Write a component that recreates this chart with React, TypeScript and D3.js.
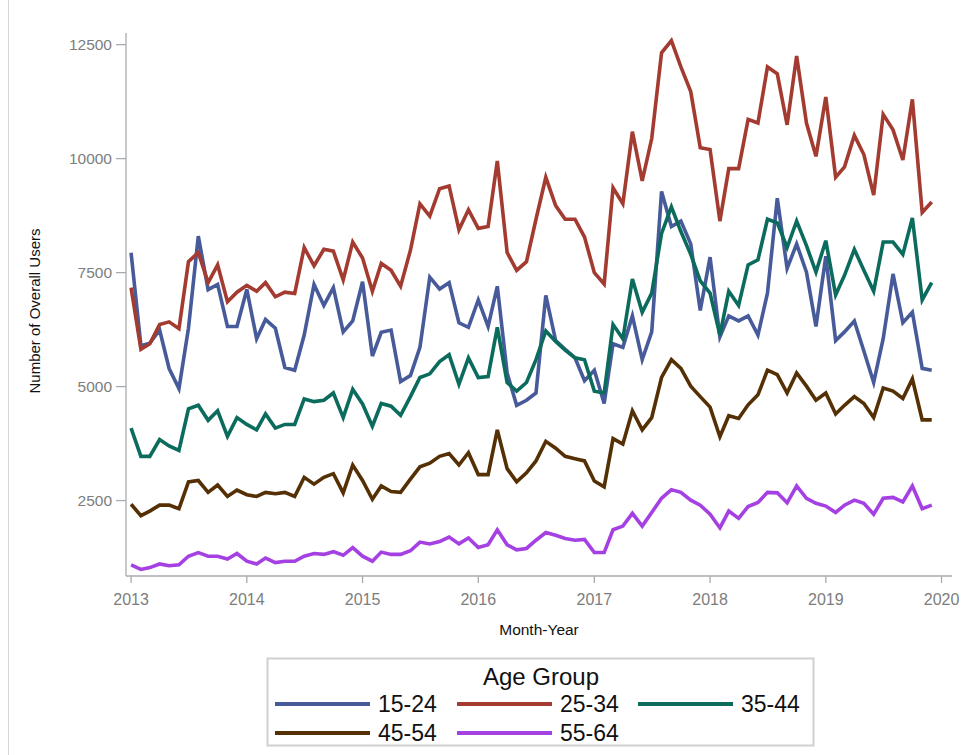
import React from "react";
import * as d3 from "d3";

const ageGroups = ["15-24", "25-34", "35-44", "45-54", "55-64"];
const colors = ["#475a99", "#a33b31", "#0b6b5d", "#553005", "#a541e3"];

const s1524 = [
  7935, 5896, 5950, 6242, 5396, 4958, 6281, 8300, 7127, 7242, 6319, 6319,
  7130, 6050, 6470, 6280, 5420, 5360, 6130, 7240, 6780, 7170, 6200, 6440,
  7300, 5670, 6190, 6240, 5110, 5240, 5860, 7400, 7140, 7280, 6400, 6300,
  6900, 6320, 7200, 5300, 4590, 4700, 4860, 7000, 6010, 5820, 5630, 5130,
  5360, 4630, 5940, 5860, 6550, 5590, 6200, 9280, 8510, 8630, 8130, 6670,
  7840, 6090, 6550, 6440, 6550, 6130, 7050, 9130, 7590, 8130, 7510, 6320,
  7860, 6010, 6200, 6440, 5780, 5090, 6050, 7470, 6400, 6630, 5400, 5360,
];
const s2534 = [
  7170, 5820, 5940, 6360, 6420, 6270, 7740, 7940, 7280, 7670, 6860, 7070,
  7220, 7090, 7280, 6970, 7070, 7040, 8050, 7650, 8010, 7970, 7340, 8170,
  7820, 7090, 7700, 7550, 7200, 7990, 9010, 8740, 9340, 9400, 8440, 8880,
  8470, 8510, 9950, 7940, 7550, 7740, 8670, 9590, 8970, 8670, 8670, 8280,
  7500, 7250, 9360, 9010, 10590, 9510, 10440, 12320, 12590, 12010, 11470, 10240,
  10200, 8630, 9780, 9780, 10860, 10780, 12010, 11860, 10740, 12250, 10780, 10050,
  11350, 9590, 9820, 10510, 10090, 9200, 10970, 10630, 9970, 11300, 8820, 9050,
];
const s3544 = [
  4090, 3470, 3470, 3840, 3700, 3600, 4510, 4590, 4260, 4470, 3910, 4320,
  4170, 4050, 4400, 4090, 4170, 4170, 4730, 4670, 4700, 4860, 4320, 4940,
  4620, 4130, 4630, 4570, 4370, 4780, 5200, 5280, 5550, 5700, 5050, 5630,
  5200, 5220, 6300, 5090, 4900, 5090, 5590, 6220, 5990, 5800, 5630, 5590,
  4900, 4860, 6360, 6050, 7360, 6630, 7050, 8360, 8940, 8400, 7900, 7320,
  7050, 6130, 7090, 6780, 7670, 7780, 8670, 8590, 8050, 8630, 8090, 7510,
  8200, 7010, 7440, 8010, 7550, 7090, 8170, 8170, 7900, 8700, 6900, 7280,
];
const s4554 = [
  2420, 2170, 2270, 2400, 2400, 2320, 2910, 2940, 2680, 2840, 2590, 2730,
  2630, 2590, 2680, 2650, 2680, 2590, 3010, 2860, 3010, 3090, 2670, 3280,
  2940, 2530, 2820, 2700, 2680, 2970, 3240, 3320, 3470, 3530, 3280, 3550,
  3070, 3070, 4050, 3200, 2910, 3110, 3370, 3800, 3650, 3470, 3420, 3370,
  2930, 2800, 3860, 3740, 4470, 4050, 4320, 5200, 5590, 5400, 5010, 4780,
  4550, 3900, 4360, 4300, 4600, 4820, 5360, 5260, 4860, 5300, 5010, 4700,
  4860, 4400, 4590, 4780, 4630, 4320, 4970, 4900, 4740, 5170, 4270, 4270,
];
const s5564 = [
  1090, 990, 1030, 1110, 1070, 1090, 1280, 1360, 1280, 1280, 1220, 1340,
  1170, 1110, 1240, 1140, 1170, 1170, 1280, 1340, 1320, 1380, 1300, 1470,
  1280, 1170, 1370, 1320, 1320, 1400, 1590, 1550, 1600, 1700, 1550, 1680,
  1470, 1530, 1860, 1530, 1420, 1450, 1630, 1800, 1740, 1670, 1630, 1650,
  1360, 1360, 1860, 1940, 2220, 1940, 2240, 2550, 2740, 2680, 2510, 2400,
  2200, 1900, 2270, 2110, 2370, 2460, 2680, 2670, 2450, 2820, 2550, 2440,
  2380, 2240, 2400, 2510, 2440, 2200, 2550, 2570, 2470, 2820, 2320, 2400,
];
const seriesValues = [s1524, s2534, s3544, s4554, s5564];

const months = d3.timeMonths(new Date(2013, 0, 1), new Date(2020, 0, 1));
const yTicks = [2500, 5000, 7500, 10000, 12500];
const xTickYears = [2013, 2014, 2015, 2016, 2017, 2018, 2019, 2020];

export default function App() {
  const x = d3
    .scaleTime()
    .domain([new Date(2012, 11, 16), new Date(2020, 1, 3)])
    .range([126, 952]);
  const y = d3.scaleLinear().domain([846, 12755]).range([576, 33]);
  const line = d3
    .line<number>()
    .x((_, i) => x(months[i]))
    .y((d) => y(d));

  const font = "'Liberation Sans', Arial, sans-serif";
  const axisColor = "#a8acb0";
  const tickText = "#7d7d7d";

  const legendItems = ageGroups.map((g, i) => ({
    g,
    color: colors[i],
    col: i % 3,
    row: Math.floor(i / 3),
  }));
  const colX = [275, 457, 638];
  const rowY = [704, 733];

  return (
    <svg
      width={964}
      height={755}
      style={{ position: "absolute", left: 0, top: 0, background: "#fff" }}
      fontFamily={font}
    >
      <rect x={0} y={0} width={964} height={755} fill="#fff" />
      <line x1={8.5} x2={8.5} y1={0} y2={755} stroke="#d6d6d6" strokeWidth={1} />

      {/* axes */}
      <line x1={126} x2={126} y1={33} y2={576} stroke={axisColor} strokeWidth={1.3} />
      <line x1={126} x2={952} y1={576} y2={576} stroke={axisColor} strokeWidth={1.3} />
      {yTicks.map((t) => (
        <g key={t}>
          <line x1={116} x2={126} y1={y(t)} y2={y(t)} stroke={axisColor} strokeWidth={1.3} />
          <text x={112} y={y(t)} dy="0.35em" textAnchor="end" fontSize={15.5} fill={tickText}>
            {t}
          </text>
        </g>
      ))}
      {xTickYears.map((yr) => {
        const px = x(new Date(yr, 0, 1));
        return (
          <g key={yr}>
            <line x1={px} x2={px} y1={576} y2={583} stroke={axisColor} strokeWidth={1.3} />
            <text x={px} y={605} textAnchor="middle" fontSize={16} fill={tickText}>
              {yr}
            </text>
          </g>
        );
      })}
      <text
        transform="translate(40,311) rotate(-90)"
        textAnchor="middle"
        fontSize={15}
        fill="#111"
      >
        Number of Overall Users
      </text>
      <text x={539} y={635} textAnchor="middle" fontSize={15.5} fill="#111">
        Month-Year
      </text>

      {/* series */}
      {seriesValues.map((vals, i) => (
        <path
          key={ageGroups[i]}
          d={line(vals) || ""}
          fill="none"
          stroke={colors[i]}
          strokeWidth={3.6}
          strokeLinejoin="miter"
          strokeMiterlimit={4}
        />
      ))}

      {/* legend */}
      <rect x={267.5} y={658.5} width={546} height={87} fill="#fff" stroke="#d0d0d0" strokeWidth={2} />
      <text x={541} y={685} textAnchor="middle" fontSize={24} fill="#111">
        Age Group
      </text>
      {legendItems.map((it) => (
        <g key={it.g}>
          <line
            x1={colX[it.col]}
            x2={colX[it.col] + 95}
            y1={rowY[it.row]}
            y2={rowY[it.row]}
            stroke={it.color}
            strokeWidth={4}
          />
          <text x={colX[it.col] + 103} y={rowY[it.row] + 8} fontSize={23} fill="#111">
            {it.g}
          </text>
        </g>
      ))}
    </svg>
  );
}
